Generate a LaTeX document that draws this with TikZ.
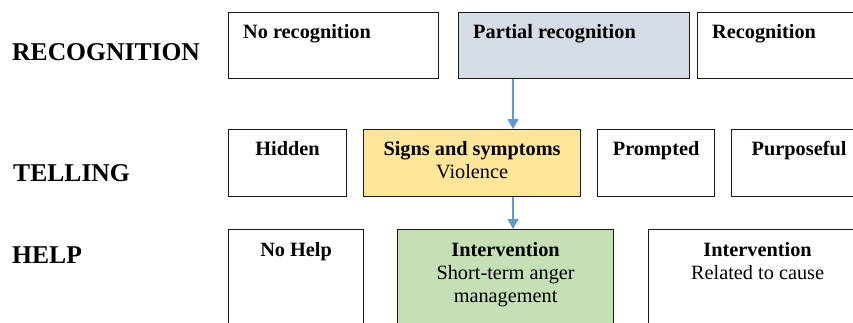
\documentclass[tikz,border=0pt]{standalone}
\usepackage{fontspec}
\setmainfont{Liberation Serif}
\usetikzlibrary{arrows.meta,calc}
\definecolor{grayblue}{HTML}{D6DCE5}
\definecolor{lightgold}{HTML}{FFE699}
\definecolor{lightgreen}{HTML}{C5E0B4}
\definecolor{arrowblue}{HTML}{5B9BD5}
\definecolor{edgegray}{HTML}{1A1A1A}
\tikzset{
  box/.style={draw=edgegray, line width=1.2pt, rectangle, anchor=north west, inner sep=0pt},
  txt/.style={inner sep=0pt, align=center, font=\fontsize{20.3}{23}\selectfont},
  rowlabel/.style={inner sep=0pt, anchor=base west, font=\fontsize{25.6}{30}\selectfont\bfseries},
  conn/.style={draw=arrowblue, line width=1.3pt, -{Triangle[width=11pt,length=10pt]}}
}
\begin{document}
\begin{tikzpicture}[x=1pt,y=-1pt]
\useasboundingbox (0,0) rectangle (853,322);
\clip (0,0) rectangle (853,322);

% row labels
\node[rowlabel] (lrec) at (12,60) {RECOGNITION};
\node[rowlabel] (ltel) at (13,181) {TELLING};
\node[rowlabel] (lhelp) at (12,263) {HELP};

% row 1
\node[box, minimum width=210, minimum height=66] (nr) at (228,12) {};
\node[box, fill=grayblue, minimum width=231, minimum height=66] (pr) at (458,12) {};
\node[box, minimum width=180, minimum height=66] (rec) at (697,12) {};
\node[txt, anchor=base west] (nrt) at ($(nr.north west)+(15,26)$) {\textbf{No recognition}};
\node[txt, anchor=base west] (prt) at ($(pr.north west)+(15,26)$) {\textbf{Partial recognition}};
\node[txt, anchor=base west] (rect) at ($(rec.north west)+(15,26)$) {\textbf{Recognition}};

% row 2
\node[box, minimum width=118, minimum height=67] (hid) at (228,129) {};
\node[box, fill=lightgold, minimum width=217, minimum height=67] (sig) at (363,129) {};
\node[box, minimum width=117, minimum height=67] (pro) at (597,129) {};
\node[box, minimum width=135, minimum height=67] (pur) at (731,129) {};
\node[txt, anchor=base] (hidt) at ($(hid.north)+(0,26)$) {\textbf{Hidden}};
\node[txt, anchor=base] (sigt) at ($(sig.north)+(0,49)$) {\textbf{Signs and symptoms}\\Violence};
\node[txt, anchor=base] (prot) at ($(pro.north)+(0,26)$) {\textbf{Prompted}};
\node[txt, anchor=base] (purt) at ($(pur.north)+(0,26)$) {\textbf{Purposeful}};

% row 3
\node[box, minimum width=135, minimum height=120] (nh) at (228,229) {};
\node[box, fill=lightgreen, minimum width=216, minimum height=120] (int1) at (397,229) {};
\node[box, minimum width=218, minimum height=120] (int2) at (648,229) {};
\node[txt, anchor=base] (nht) at ($(nh.north)+(0,27)$) {\textbf{No Help}};
\node[txt, anchor=base] (int1t) at ($(int1.north)+(0,73)$) {\textbf{Intervention}\\Short-term anger\\management};
\node[txt, anchor=base] (int2t) at ($(int2.north)+(0,50)$) {\textbf{Intervention}\\Related to cause};

% connectors
\coordinate (ax) at (513,0);
\draw[conn] (pr.south -| ax) -- (sig.north -| ax);
\draw[conn] (sig.south -| ax) -- (int1.north -| ax);
\end{tikzpicture}
\end{document}
